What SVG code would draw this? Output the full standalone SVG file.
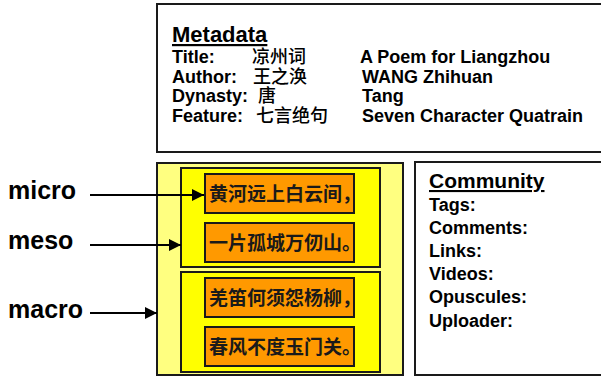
<svg xmlns="http://www.w3.org/2000/svg" width="601" height="377" viewBox="0 0 601 377">
<defs>
<style>
.box{stroke:#1a1a1a;stroke-width:2}
.lbl{font-family:"Liberation Sans",Arial,sans-serif;font-weight:bold;fill:#000}
.cjk{font-family:"Noto Sans CJK SC",sans-serif;font-weight:500;fill:#000}
.poem{font-family:"Noto Sans CJK SC",sans-serif;font-weight:bold;font-size:19px;fill:#1a1a1a}
.conn{stroke:#000;stroke-width:2;fill:none}
</style>
<marker id="arr" markerUnits="userSpaceOnUse" markerWidth="14" markerHeight="12" refX="12" refY="6" orient="auto">
<path d="M0,0 L12,6 L0,12 Z" fill="#000"/>
</marker>
</defs>
<rect width="601" height="377" fill="#fff"/>

<g id="metadata">
<rect class="box" x="157" y="4" width="460" height="148" fill="#fff"/>
<text class="lbl" x="172" y="42" font-size="22" text-decoration="underline">Metadata</text>
<text class="lbl" x="172" y="63" font-size="18">Title:</text>
<text class="cjk" x="252" y="63" font-size="18">凉州词</text>
<text class="lbl" x="360" y="63" font-size="18">A Poem for Liangzhou</text>
<text class="lbl" x="172" y="83" font-size="18">Author:</text>
<text class="cjk" x="253" y="83" font-size="18">王之涣</text>
<text class="lbl" x="362" y="83" font-size="18">WANG Zhihuan</text>
<text class="lbl" x="172" y="102" font-size="18">Dynasty:</text>
<text class="cjk" x="258" y="102" font-size="18">唐</text>
<text class="lbl" x="362" y="102" font-size="18">Tang</text>
<text class="lbl" x="172" y="122" font-size="18">Feature:</text>
<text class="cjk" x="256" y="122" font-size="18">七言绝句</text>
<text class="lbl" x="362" y="122" font-size="18">Seven Character Quatrain</text>
</g>

<g id="poem">
<rect class="box" x="157" y="163" width="246" height="212" fill="#ffff80"/>
<g id="group-upper">
<rect class="box" x="181" y="168" width="199" height="99" fill="#ffff00"/>
</g>
<g id="group-lower">
<rect class="box" x="181" y="272" width="199" height="100" fill="#ffff00"/>
</g>
<g id="line1">
<rect class="box" x="205" y="174" width="149" height="39" fill="#ff9900"/>
<text class="poem" x="209" y="200.5">黄河远上白云间，</text>
</g>
<g id="line2">
<rect class="box" x="205" y="223" width="149" height="39" fill="#ff9900"/>
<text class="poem" x="209" y="249.5">一片孤城万仞山。</text>
</g>
<g id="line3">
<rect class="box" x="205" y="278" width="149" height="39" fill="#ff9900"/>
<text class="poem" x="209" y="304.5">羌笛何须怨杨柳，</text>
</g>
<g id="line4">
<rect class="box" x="205" y="327" width="149" height="39" fill="#ff9900"/>
<text class="poem" x="209" y="353.5">春风不度玉门关。</text>
</g>
</g>

<g id="community">
<rect class="box" x="415" y="162" width="200" height="213" fill="#fff"/>
<text class="lbl" x="429" y="188" font-size="21" text-decoration="underline">Community</text>
<text class="lbl" x="429" y="211" font-size="18">Tags:</text>
<text class="lbl" x="429" y="234" font-size="18">Comments:</text>
<text class="lbl" x="429" y="257" font-size="18">Links:</text>
<text class="lbl" x="429" y="280" font-size="18">Videos:</text>
<text class="lbl" x="429" y="303" font-size="18">Opuscules:</text>
<text class="lbl" x="429" y="327" font-size="18">Uploader:</text>
</g>

<g id="levels">
<text class="lbl" x="8" y="199" font-size="25">micro</text>
<text class="lbl" x="8" y="249" font-size="25">meso</text>
<text class="lbl" x="8" y="318" font-size="25">macro</text>
</g>

<g id="connectors">
<line class="conn" x1="90" y1="195" x2="204" y2="195" marker-end="url(#arr)"/>
<line class="conn" x1="90" y1="245" x2="181" y2="245" marker-end="url(#arr)"/>
<line class="conn" x1="90" y1="313" x2="157" y2="313" marker-end="url(#arr)"/>
</g>
</svg>
